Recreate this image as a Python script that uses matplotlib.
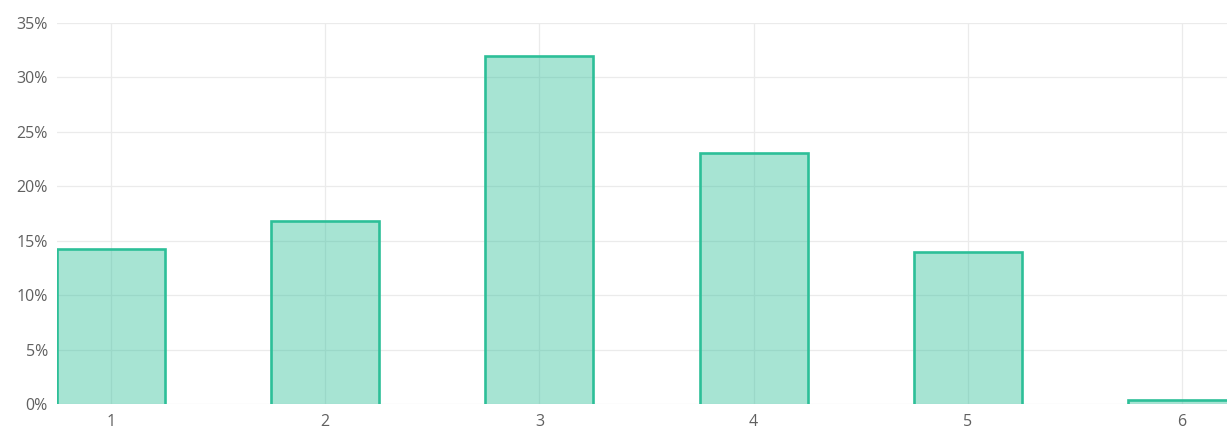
import matplotlib
matplotlib.use("Agg")
import matplotlib.pyplot as plt
from matplotlib.ticker import FuncFormatter

categories = ["1", "2", "3", "4", "5", "6"]
values = [14.2, 16.8, 32.0, 23.1, 14.0, 0.4]
y_ticks = [0, 5, 10, 15, 20, 25, 30, 35]

plt.rcParams['font.family'] = ['Open Sans', 'DejaVu Sans']

W, H = 1227, 436
fig = plt.figure(figsize=(W / 100, H / 100), dpi=100)
left, right = 57, 1236
top, bottom = 23, 404
ax = fig.add_axes([left / W, 1 - bottom / H, (right - left) / W, (bottom - top) / H])

edge = "#2dbf98"
width = 0.505
xs = list(range(1, len(categories) + 1))

ax.bar(xs, values, width=width, color=edge, alpha=0.42, edgecolor="none", zorder=2)
for x, v in zip(xs, values):
    ax.plot([x - width / 2, x - width / 2, x + width / 2, x + width / 2],
            [0, v, v, 0], color=edge, lw=1.9, zorder=3, solid_joinstyle="miter",
            solid_capstyle="butt")

ax.set_xlim(1 - width / 2, len(categories) + width / 2)
ax.set_ylim(0, 35)
ax.set_yticks(y_ticks)
ax.yaxis.set_major_formatter(FuncFormatter(lambda v, p: f"{int(v)}%"))
ax.set_xticks(xs)
ax.set_xticklabels(categories)

for s in ax.spines.values():
    s.set_visible(False)
ax.grid(True, color="#ebebeb", lw=0.9, zorder=0)
ax.set_axisbelow(True)
ax.tick_params(axis="both", length=0, labelsize=11.5, colors="#606060")
ax.tick_params(axis="y", pad=6.5)
ax.tick_params(axis="x", pad=7.5)

fig.savefig("out.png", dpi=100)
